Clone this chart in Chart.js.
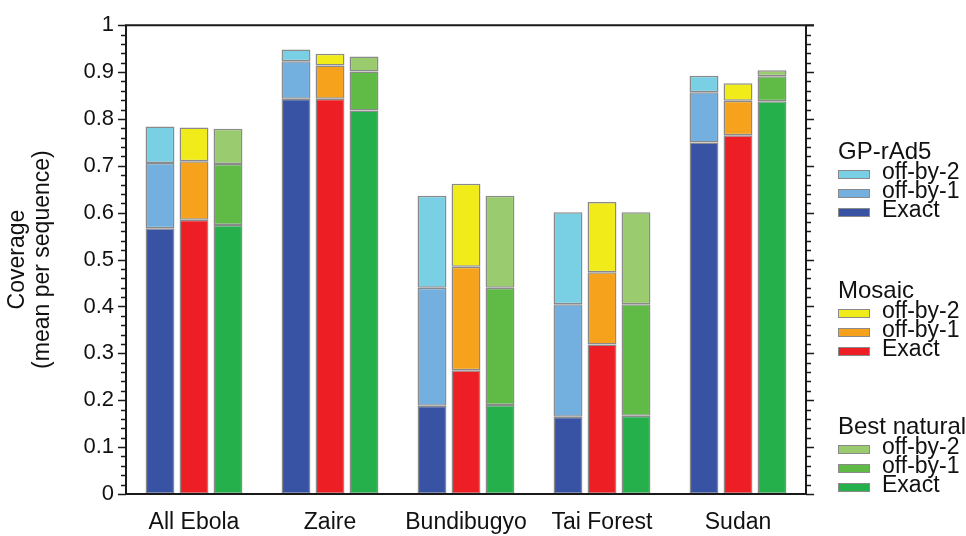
<!DOCTYPE html>
<html>
<head>
<meta charset="utf-8">
<script src="https://cdn.jsdelivr.net/npm/chart.js@4.4.1/dist/chart.umd.min.js"></script>
<style>
  body { margin: 0; background: #fff; }
  #wrap { position: relative; width: 966px; height: 536px; font-family: "Liberation Sans", Arial, sans-serif; color: #111; }
  #legend div { position: absolute; white-space: nowrap; }
  .ttl { font-size: 24px; line-height: 24px; }
  .itm { font-size: 23px; line-height: 23px; }
  .sw { width: 30px; height: 7px; border: 1px solid #8a8a8a; }
</style>
</head>
<body>
<div id="wrap">
  <canvas id="BarChart" width="966" height="536"></canvas>
  <div id="legend"></div>
</div>
<script>
var groups = ['All Ebola', 'Zaire', 'Bundibugyo', 'Tai Forest', 'Sudan'];

// cumulative coverage: exact match, within 1, within 2
var gpExact = [0.567, 0.843, 0.188, 0.165, 0.750];
var gpOff1 = [0.706, 0.923, 0.440, 0.405, 0.857];
var gpOff2 = [0.784, 0.948, 0.636, 0.601, 0.892];

var mosExact = [0.585, 0.843, 0.264, 0.319, 0.765];
var mosOff1 = [0.710, 0.914, 0.485, 0.473, 0.839];
var mosOff2 = [0.782, 0.939, 0.662, 0.623, 0.876];

var natExact = [0.574, 0.818, 0.190, 0.167, 0.838];
var natOff1 = [0.704, 0.901, 0.440, 0.405, 0.891];
var natOff2 = [0.779, 0.933, 0.636, 0.601, 0.904];

var vaccines = ['GP-rAd5', 'Mosaic', 'Best natural'];
var levels = ['Exact', 'off-by-1', 'off-by-2'];

var series = [
    { stack: 'gp', cum: [gpExact, gpOff1, gpOff2], colors: ['#3953a4', '#74b0df', '#79d0e5'] },
    { stack: 'mos', cum: [mosExact, mosOff1, mosOff2], colors: ['#ed1f24', '#f6a21d', '#f1eb19'] },
    { stack: 'nat', cum: [natExact, natOff1, natOff2], colors: ['#25b04b', '#5fba46', '#9acb6e'] }
];

var font = "'Liberation Sans', Arial, sans-serif";

// each stacked segment is the gain over the level below it
var datasets = [];
series.forEach(function (s, si) {
    s.cum.forEach(function (arr, li) {
        datasets.push({
            label: vaccines[si] + ' ' + levels[li],
            stack: s.stack,
            data: arr.map(function (v, i) { return li === 0 ? v : v - s.cum[li - 1][i]; }),
            backgroundColor: s.colors[li],
            borderColor: '#8a8a8a',
            borderWidth: 1.5,
            borderSkipped: false,
            categoryPercentage: 0.75,
            barPercentage: 0.85
        });
    });
});

// box frame with major/minor ticks on both sides
var frame = {
    id: 'frame',
    afterDraw: function (chart) {
        var ctx = chart.ctx, a = chart.chartArea, y = chart.scales.y;
        ctx.save();
        ctx.strokeStyle = '#1a1a1a';
        ctx.lineWidth = 2;
        ctx.beginPath();
        ctx.moveTo(a.left, a.top); ctx.lineTo(a.left, a.bottom);
        ctx.moveTo(a.left - 1, a.bottom); ctx.lineTo(a.right + 1, a.bottom);
        ctx.moveTo(a.right, a.bottom); ctx.lineTo(a.right, a.top);
        ctx.moveTo(a.left - 1, a.top); ctx.lineTo(a.right + 8, a.top);
        ctx.stroke();
        ctx.lineWidth = 1.5;
        ctx.beginPath();
        for (var i = 0; i <= 50; i++) {
            var py = Math.round(y.getPixelForValue(i / 50)) + 0.5;
            var len = i % 5 === 0 ? 8 : 5;
            ctx.moveTo(a.left, py); ctx.lineTo(a.left - len, py);
            ctx.moveTo(a.right, py); ctx.lineTo(a.right + len, py);
        }
        ctx.stroke();
        ctx.restore();
    }
};

var ctx = document.getElementById('BarChart').getContext('2d');
var myChart = new Chart(ctx, {
    type: 'bar',
    data: { labels: groups, datasets: datasets },
    options: {
        responsive: false,
        animation: false,
        layout: { padding: { top: 20 } },
        plugins: { legend: { display: false }, tooltip: { enabled: false } },
        scales: {
            x: {
                stacked: true,
                grid: { display: false, drawTicks: false },
                border: { display: false },
                ticks: { color: '#111', padding: 15, font: { family: font, size: 23 } },
                afterFit: function (s) { s.height = 42; }
            },
            y: {
                stacked: true,
                min: 0,
                max: 1,
                grid: { display: false, drawTicks: false },
                border: { display: false },
                ticks: {
                    stepSize: 0.1,
                    color: '#111',
                    padding: 12,
                    font: { family: font, size: 22 },
                    callback: function (v) { return v === 0 || v === 1 ? String(v) : v.toFixed(1); }
                },
                title: {
                    display: true,
                    text: ['Coverage', '(mean per sequence)'],
                    color: '#111',
                    padding: { top: 6, bottom: 0 },
                    font: { family: font, size: 23, lineHeight: 1.05 }
                },
                afterFit: function (s) { s.width = 126; }
            },
            y2: {
                position: 'right',
                min: 0,
                max: 1,
                grid: { display: false, drawTicks: false },
                border: { display: false },
                ticks: { display: false },
                afterFit: function (s) { s.width = 160; }
            }
        }
    },
    plugins: [frame]
});

// grouped legend on the right, positioned by text baseline
var legend = document.getElementById('legend');
var titleBase = [159, 298, 434];
series.forEach(function (s, si) {
    var b = titleBase[si];
    var t = document.createElement('div');
    t.className = 'ttl';
    t.textContent = vaccines[si];
    t.style.left = '838px';
    t.style.top = (b - 20.3) + 'px';
    legend.appendChild(t);
    // off-by-2 first, exact last
    [2, 1, 0].forEach(function (li, row) {
        var sw = document.createElement('div');
        sw.className = 'sw';
        sw.style.background = s.colors[li];
        sw.style.left = '838px';
        sw.style.top = (b + 15 + row * 19 - 4.5) + 'px';
        legend.appendChild(sw);
        var tx = document.createElement('div');
        tx.className = 'itm';
        tx.textContent = levels[li];
        tx.style.left = '882px';
        tx.style.top = (b + 20 + row * 19 - 19.5) + 'px';
        legend.appendChild(tx);
    });
});
</script>
</body>
</html>
